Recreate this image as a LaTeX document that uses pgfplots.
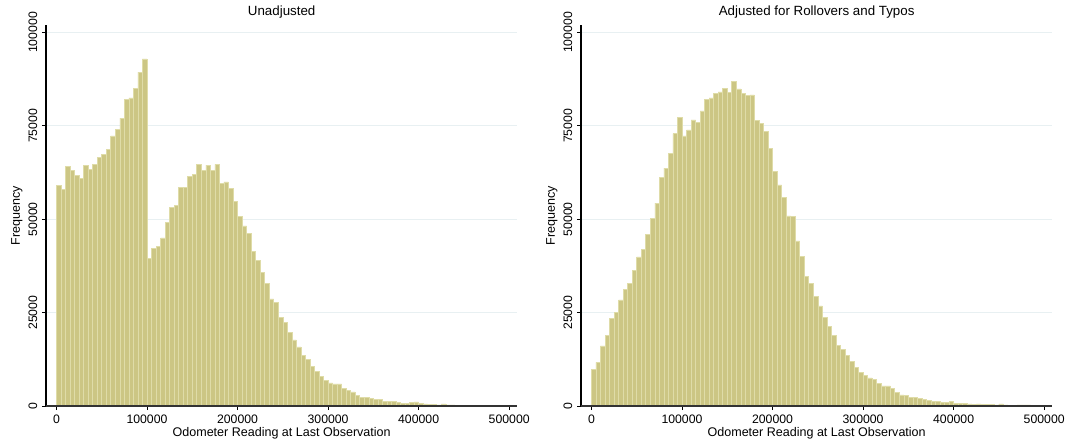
\documentclass[border=0pt]{standalone}
\usepackage{fontspec}
\setmainfont{Liberation Sans}
\usepackage{pgfplots}
\pgfplotsset{compat=1.18}
\usepackage{pgfplotstable}

\definecolor{barfill}{RGB}{204,198,132}
\definecolor{barline}{RGB}{223,220,168}
\definecolor{gridc}{RGB}{232,240,242}

\pgfplotstableread{
x y
0 59000
5000 57900
10000 64100
15000 63100
20000 61700
25000 61000
30000 64500
35000 63400
40000 64700
45000 66600
50000 67400
55000 68800
60000 72300
65000 74000
70000 77100
75000 82100
80000 82500
85000 85100
90000 89400
95000 92900
100000 39600
105000 42300
110000 42700
115000 45000
120000 49100
125000 53200
130000 53800
135000 58600
140000 58600
145000 61500
150000 62100
155000 64700
160000 63100
165000 64500
170000 63100
175000 64700
180000 59700
185000 60000
190000 58200
195000 54700
200000 50800
205000 48200
210000 46300
215000 41400
220000 38900
225000 35700
230000 32900
235000 28700
240000 27800
245000 23700
250000 22300
255000 19800
260000 17700
265000 15800
270000 13600
275000 12500
280000 10700
285000 9200
290000 8000
295000 6900
300000 6200
305000 5900
310000 5900
315000 4700
320000 4200
325000 3800
330000 2900
335000 2300
340000 2200
345000 2000
350000 1800
355000 1800
360000 1250
365000 1250
370000 1150
375000 1000
380000 800
385000 700
390000 900
395000 1100
400000 600
405000 550
410000 450
415000 350
420000 300
425000 550
430000 300
435000 300
440000 200
445000 200
450000 200
455000 200
460000 200
465000 200
470000 200
475000 150
480000 150
485000 100
490000 100
495000 50
500000 0
}\unadj

\pgfplotstableread{
x y
0 9900
5000 11700
10000 16100
15000 18800
20000 23500
25000 25000
30000 28400
35000 31200
40000 32900
45000 36200
50000 39900
55000 42000
60000 46000
65000 50300
70000 54300
75000 61200
80000 63700
85000 67700
90000 72900
95000 77300
100000 72300
105000 73900
110000 76600
115000 76000
120000 79000
125000 82000
130000 82500
135000 83700
140000 84100
145000 85100
150000 84000
155000 86900
160000 84900
165000 83700
170000 83100
175000 83300
180000 76400
185000 75700
190000 73500
195000 69000
200000 62900
205000 59200
210000 55800
215000 50900
220000 50700
225000 44200
230000 40000
235000 34600
240000 32800
245000 29300
250000 26800
255000 23700
260000 21400
265000 18900
270000 16300
275000 15200
280000 13500
285000 12000
290000 10300
295000 9000
300000 8100
305000 7500
310000 7100
315000 6000
320000 5400
325000 5400
330000 4700
335000 3700
340000 3000
345000 2900
350000 2400
355000 2350
360000 2050
365000 1700
370000 1500
375000 1300
380000 1150
385000 1050
390000 1000
395000 1150
400000 800
405000 700
410000 800
415000 550
420000 450
425000 550
430000 350
435000 350
440000 350
445000 300
450000 550
455000 300
460000 200
465000 200
470000 300
475000 300
480000 300
485000 200
490000 100
495000 100
500000 0
}\adj

\pgfplotsset{
  stataax/.style={
    scale only axis, width=353.5pt, height=285.75pt, anchor=south west,
    xmin=-11500, xmax=509000, ymin=0, ymax=102000,
    axis x line*=bottom, axis y line*=left,
    axis line style={-, line width=0.8pt, black},
    xtick={0,100000,200000,300000,400000,500000},
    xticklabels={0,100000,200000,300000,400000,500000},
    ytick={0,25000,50000,75000,100000},
    yticklabels={0,25000,50000,75000,100000},
    scaled ticks=false, tick align=outside, tick pos=left,
    major tick length=3pt, tick style={black, line width=0.6pt},
    ymajorgrids, grid style={gridc, line width=0.75pt},
    ticklabel style={font=\fontsize{9.2}{10}\selectfont},
    yticklabel style={rotate=90, anchor=south},
    xlabel={Odometer Reading at Last Observation},
    ylabel={Frequency},
    label style={font=\fontsize{9.4}{11}\selectfont},
    xlabel style={at={(axis description cs:0.5,-0.072)}, anchor=center},
    ylabel style={at={(axis description cs:-0.062,0.5)}, anchor=center},
  },
  histbar/.style={ybar interval, fill=barfill, draw=barline, line width=0.45pt},
}

\begin{document}
\begin{tikzpicture}
\path[use as bounding box] (0,0) rectangle (801.75pt,333pt);
\begin{axis}[stataax, at={(34.5pt,28.5pt)}, name=left]
\addplot[histbar] table[x=x, y=y] {\unadj};
\draw[line width=0.8pt, black!80] (rel axis cs:0,0) -- (rel axis cs:1,0);
\end{axis}
\begin{axis}[stataax, at={(435.75pt,28.5pt)}, name=right]
\addplot[histbar] table[x=x, y=y] {\adj};
\draw[line width=0.8pt, black!80] (rel axis cs:0,0) -- (rel axis cs:1,0);
\end{axis}
\node[anchor=center, font=\fontsize{10}{12}\selectfont, inner sep=0pt] at ([yshift=9.5pt]left.north) {Unadjusted};
\node[anchor=center, font=\fontsize{10}{12}\selectfont, inner sep=0pt] at ([yshift=9.5pt]right.north) {Adjusted for Rollovers and Typos};
\end{tikzpicture}
\end{document}
